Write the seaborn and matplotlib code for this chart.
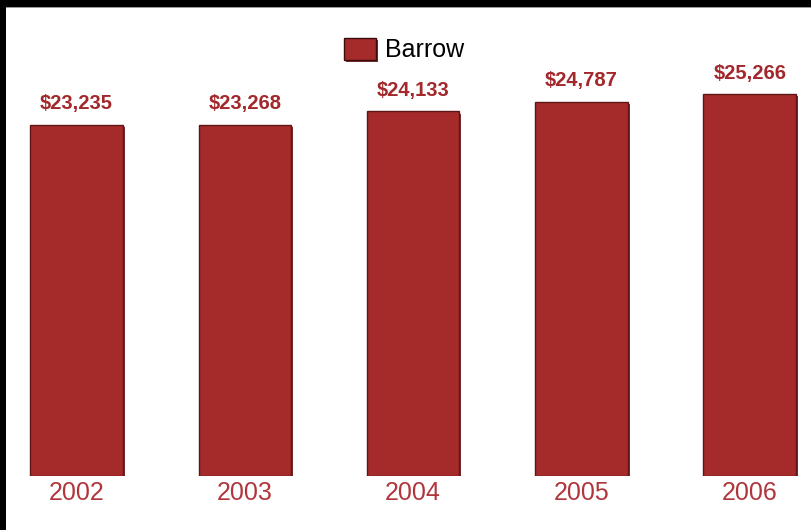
import matplotlib
matplotlib.use("Agg")
import matplotlib.pyplot as plt
import matplotlib.patheffects as pe
from matplotlib.patches import Rectangle
import seaborn as sns
import pandas as pd

years = ["2002", "2003", "2004", "2005", "2006"]
values = [23235, 23268, 24133, 24787, 25266]
series = ["Barrow"] * len(years)
labels = ["$23,235", "$23,268", "$24,133", "$24,787", "$25,266"]

df = pd.DataFrame({"year": years, "value": values, "series": series})

sns.set_theme(style="white")
plt.rcParams["font.family"] = ["Liberation Sans", "DejaVu Sans"]

W, H = 811, 530
fig = plt.figure(figsize=(W / 100, H / 100), dpi=100)
fig.patch.set_facecolor("white")

base_px = 476
top_px = 6
ax = fig.add_axes([0, (H - base_px) / H, 1, (base_px - top_px) / H])
ax.set_facecolor("white")

bar_color = "#a52a2a"
sns.barplot(data=df, x="year", y="value", hue="series", palette=[bar_color],
            width=0.55, ax=ax, edgecolor="#5e1616", linewidth=1.0, saturation=1)

scale = 351 / 23235
ax.set_ylim(0, (base_px - top_px) / scale)
ax.set_xlim(-0.4545, 4.364)

for p in ax.patches:
    p.set_path_effects([pe.SimplePatchShadow(offset=(1.5, -1.5), shadow_rgbFace="#6a1818", alpha=0.9), pe.Normal()])

for c in ax.containers:
    ax.bar_label(c, labels=labels, padding=8.5, fontsize=14.5, fontweight="bold",
                 color="#a3282c")

for s in ax.spines.values():
    s.set_visible(False)
ax.set_xlabel("")
ax.set_ylabel("")
ax.set_yticks([])
ax.tick_params(axis="x", length=0, pad=3.5, labelsize=18, labelcolor="#b0363c")

leg = ax.legend(loc="center", bbox_to_anchor=(404 / W, 1 - 50 / H), bbox_transform=fig.transFigure,
                frameon=False, fontsize=18, handlelength=1.28, handleheight=1.0,
                handletextpad=0.36, borderpad=0, title=None, labelcolor="black")
for h in leg.legend_handles:
    h.set_edgecolor("#3a0c0c")
    h.set_linewidth(1.0)

# frame (top and left black borders)
fig.add_artist(Rectangle((0, 1 - 8 / H), 1, 1 / H, transform=fig.transFigure,
                         facecolor="#9a9a9a", edgecolor="none"))
fig.add_artist(Rectangle((0, 1 - 7 / H), 1, 7 / H, transform=fig.transFigure,
                         facecolor="black", edgecolor="none"))
fig.add_artist(Rectangle((0, 0), 6 / W, 1, transform=fig.transFigure,
                         facecolor="black", edgecolor="none"))

fig.savefig("out.png", dpi=100, facecolor="white")
